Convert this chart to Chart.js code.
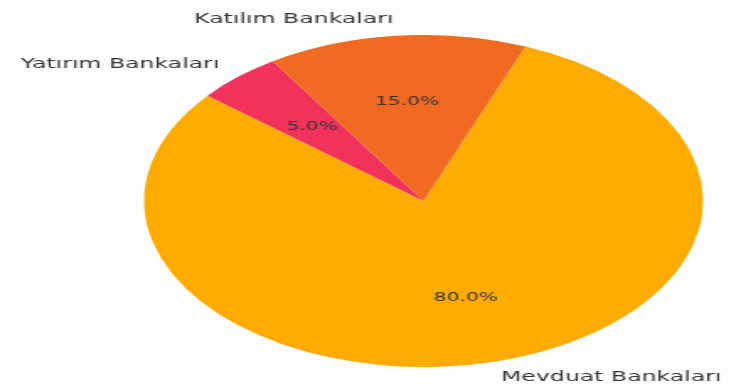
<!DOCTYPE html>
<html>
<head>
<meta charset="utf-8">
<script src="https://cdn.jsdelivr.net/npm/chart.js@4"></script>
<style>
  html, body { margin: 0; padding: 0; background: #fff; overflow: hidden; }
  #wrap { width: 434px; height: 390px; transform: scaleX(1.684); transform-origin: 0 0; }
</style>
</head>
<body>
<div id="wrap"><canvas id="pieChart" width="434" height="390"></canvas></div>
<script>
// data, in drawing order (clockwise)
const labels = ['Mevduat Bankaları', 'Yatırım Bankaları', 'Katılım Bankaları'];
const shares = [80, 5, 15];
const colors = ['#ffab00', '#f1335c', '#f26a22'];

const textColor = '#333333';

// matplotlib-like labels: name outside at 1.1r, percent inside at 0.6r
const sliceLabels = {
    id: 'sliceLabels',
    afterDatasetsDraw(chart) {
        const ctx = chart.ctx;
        const meta = chart.getDatasetMeta(0);
        const total = shares.reduce((a, b) => a + b, 0);
        ctx.save();
        ctx.fillStyle = textColor;
        ctx.textBaseline = 'middle';
        meta.data.forEach(function (arc, i) {
            const p = arc.getProps(['x', 'y', 'startAngle', 'endAngle', 'outerRadius'], true);
            const mid = (p.startAngle + p.endAngle) / 2;
            const cos = Math.cos(mid), sin = Math.sin(mid);

            ctx.font = '14px "DejaVu Sans"';
            ctx.textAlign = cos >= 0 ? 'left' : 'right';
            ctx.fillText(labels[i], p.x + cos * p.outerRadius * 1.1, p.y + sin * p.outerRadius * 1.1);

            ctx.font = '12px "DejaVu Sans"';
            ctx.textAlign = 'center';
            const pct = (shares[i] / total * 100).toFixed(1) + '%';
            ctx.fillText(pct, p.x + cos * p.outerRadius * 0.6, p.y + sin * p.outerRadius * 0.6);
        });
        ctx.restore();
    }
};

new Chart(document.getElementById('pieChart'), {
    type: 'pie',
    data: {
        labels: labels,
        datasets: [{
            data: shares,
            backgroundColor: colors,
            borderWidth: 0
        }]
    },
    options: {
        responsive: false,
        animation: false,
        rotation: 21.4,
        layout: {
            padding: { left: 85.5, right: 16.5, top: 35, bottom: 23 }
        },
        plugins: {
            legend: { display: false },
            tooltip: { enabled: false }
        }
    },
    plugins: [sliceLabels]
});
</script>
</body>
</html>
